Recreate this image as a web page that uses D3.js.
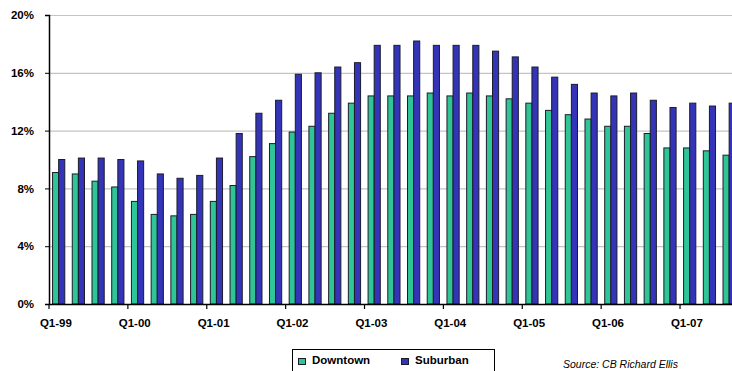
<!DOCTYPE html>
<html>
<head>
<meta charset="utf-8">
<script src="https://cdn.jsdelivr.net/npm/d3@7"></script>
<style>
	body { margin: 0; background: #fff; }
	svg { display: block; font-family: "Liberation Sans", Arial, sans-serif; }
</style>
</head>
<body>
<svg width="732" height="371"></svg>
<script>
/* DATA */
var quarters = [
	"Q1-99", "Q2-99", "Q3-99", "Q4-99",
	"Q1-00", "Q2-00", "Q3-00", "Q4-00",
	"Q1-01", "Q2-01", "Q3-01", "Q4-01",
	"Q1-02", "Q2-02", "Q3-02", "Q4-02",
	"Q1-03", "Q2-03", "Q3-03", "Q4-03",
	"Q1-04", "Q2-04", "Q3-04", "Q4-04",
	"Q1-05", "Q2-05", "Q3-05", "Q4-05",
	"Q1-06", "Q2-06", "Q3-06", "Q4-06",
	"Q1-07", "Q2-07", "Q3-07"
];
var downtown = [
	9.1, 9.0, 8.5, 8.1,
	7.1, 6.2, 6.1, 6.2,
	7.1, 8.2, 10.2, 11.1,
	11.9, 12.3, 13.2, 13.9,
	14.4, 14.4, 14.4, 14.6,
	14.4, 14.6, 14.4, 14.2,
	13.9, 13.4, 13.1, 12.8,
	12.3, 12.3, 11.8, 10.8,
	10.8, 10.6, 10.3
];
var suburban = [
	10.0, 10.1, 10.1, 10.0,
	9.9, 9.0, 8.7, 8.9,
	10.1, 11.8, 13.2, 14.1,
	15.9, 16.0, 16.4, 16.7,
	17.9, 17.9, 18.2, 17.9,
	17.9, 17.9, 17.5, 17.1,
	16.4, 15.7, 15.2, 14.6,
	14.4, 14.6, 14.1, 13.6,
	13.9, 13.7, 13.9
];
var seriesNames = ["Downtown", "Suburban"];
var seriesColors = ["#2fc597", "#3434b8"];
var yTicks = [0, 4, 8, 12, 16, 20];
var xLabels = ["Q1-99", "Q1-00", "Q1-01", "Q1-02", "Q1-03", "Q1-04", "Q1-05", "Q1-06", "Q1-07"];
var sourceText = "Source: CB Richard Ellis";

/* SVG */
var svg = d3.select("svg");
var plotLeft = 49, plotTop = 15, plotBottom = 304;
var step = 19.72;

var x = d3.scaleBand()
	.domain(quarters)
	.range([plotLeft, plotLeft + quarters.length * step])
	.padding(0);
var bw = x.bandwidth();
var x1 = d3.scaleBand()
	.domain(seriesNames)
	.range([bw * 0.18, bw * 0.8]);
var y = d3.scaleLinear().domain([0, 20]).range([plotBottom, plotTop]);
var color = d3.scaleOrdinal().domain(seriesNames).range(seriesColors);

/* GRID */
svg.append("g")
	.selectAll("line")
	.data(yTicks.filter(function (d) { return d > 0; }))
	.enter()
	.append("line")
	.attr("x1", plotLeft)
	.attr("x2", 732)
	.attr("y1", function (d) { return y(d) + 0.5; })
	.attr("y2", function (d) { return y(d) + 0.5; })
	.attr("stroke", "#c4c4c4")
	.attr("stroke-width", 1.2);

/* BARS */
var rows = quarters.map(function (q, i) {
	return { q: q, vals: [downtown[i], suburban[i]] };
});
var group = svg.append("g")
	.selectAll("g")
	.data(rows)
	.enter()
	.append("g")
	.attr("transform", function (d) { return "translate(" + x(d.q) + ",0)"; });

group.selectAll("rect")
	.data(function (d) {
		return seriesNames.map(function (s, k) { return { s: s, v: d.vals[k] }; });
	})
	.enter()
	.append("rect")
	.attr("x", function (d) { return x1(d.s); })
	.attr("width", x1.bandwidth())
	.attr("y", function (d) { return y(d.v); })
	.attr("height", function (d) { return y(0) - y(d.v); })
	.attr("fill", function (d) { return color(d.s); })
	.attr("stroke", "#1c1c2a")
	.attr("stroke-width", 1);

/* AXES */
var yAxis = d3.axisLeft(y)
	.tickValues(yTicks)
	.tickFormat(function (d) { return d + "%"; })
	.tickSize(4)
	.tickPadding(11);
var gy = svg.append("g")
	.attr("transform", "translate(" + plotLeft + ",0)")
	.call(yAxis);
gy.select(".domain").attr("stroke", "#000").attr("stroke-width", 1.5);
gy.selectAll(".tick line").attr("stroke", "#000");
gy.selectAll("text")
	.attr("font-size", "11.5px")
	.attr("font-weight", "bold")
	.attr("fill", "#000");

// x axis: ticks at the boundary before each Q1, labels under the category
var gx = svg.append("g");
gx.append("line")
	.attr("x1", plotLeft)
	.attr("x2", 732)
	.attr("y1", plotBottom + 0.5)
	.attr("y2", plotBottom + 0.5)
	.attr("stroke", "#000")
	.attr("stroke-width", 1.5);
gx.selectAll("line.tk")
	.data(xLabels)
	.enter()
	.append("line")
	.attr("class", "tk")
	.attr("x1", function (d) { return x(d); })
	.attr("x2", function (d) { return x(d); })
	.attr("y1", plotBottom)
	.attr("y2", plotBottom + 5)
	.attr("stroke", "#000")
	.attr("stroke-width", 1.2);
gx.selectAll("text")
	.data(xLabels)
	.enter()
	.append("text")
	.attr("x", function (d) { return x(d) + bw / 2 - 3; })
	.attr("y", 327)
	.attr("text-anchor", "middle")
	.attr("font-size", "11.5px")
	.attr("font-weight", "bold")
	.text(function (d) { return d; });

/* LEGEND */
var legend = svg.append("g");
legend.append("rect")
	.attr("x", 292.5)
	.attr("y", 349.5)
	.attr("width", 202)
	.attr("height", 30)
	.attr("fill", "#fff")
	.attr("stroke", "#000")
	.attr("stroke-width", 1);
var legendX = [298, 401];
var item = legend.selectAll("g")
	.data(seriesNames)
	.enter()
	.append("g")
	.attr("transform", function (d, i) { return "translate(" + legendX[i] + ",0)"; });
item.append("rect")
	.attr("x", 0.5)
	.attr("y", 358.5)
	.attr("width", 7)
	.attr("height", 6)
	.attr("fill", function (d) { return color(d); })
	.attr("stroke", "#1c1c2a");
item.append("text")
	.attr("x", 14)
	.attr("y", 364)
	.attr("font-size", "11.5px")
	.attr("font-weight", "bold")
	.text(function (d) { return d; });

/* SOURCE */
svg.append("text")
	.attr("x", 563)
	.attr("y", 368)
	.attr("font-size", "10.5px")
	.attr("font-style", "italic")
	.text(sourceText);
</script>
</body>
</html>
